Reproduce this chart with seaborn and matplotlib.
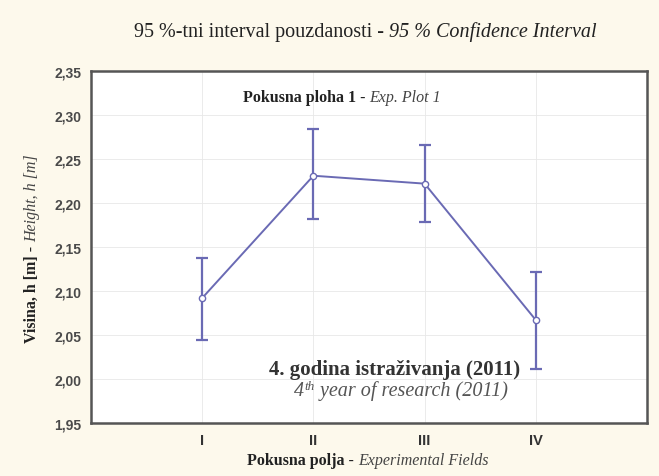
import matplotlib
matplotlib.use("Agg")
import matplotlib.pyplot as plt
import seaborn as sns
import numpy as np
import pandas as pd

fields = ["I", "II", "III", "IV"]
means = [2.092, 2.231, 2.222, 2.067]
ci_low = [2.044, 2.182, 2.178, 2.011]
ci_high = [2.138, 2.284, 2.266, 2.122]
y_ticks = [1.95, 2.00, 2.05, 2.10, 2.15, 2.20, 2.25, 2.30, 2.35]

sns.set_theme(style="white")
plt.rcParams['font.family'] = ['Liberation Serif', 'DejaVu Serif']

BG = "#fdf9ec"
LINE = "#6a6ab4"

fig = plt.figure(figsize=(6.59, 4.77), dpi=100, facecolor=BG)
ax = fig.add_axes([91/659, 1-424/477, (647-91)/659, (424-72)/477])
ax.set_facecolor("white")

xpos = np.arange(1, len(fields) + 1)
df = pd.DataFrame({"x": xpos, "mean": means})

ax.errorbar(xpos, means,
            yerr=[np.array(means) - np.array(ci_low), np.array(ci_high) - np.array(means)],
            fmt="none", ecolor=LINE, elinewidth=1.6, capsize=4, capthick=1.6, zorder=2)
sns.lineplot(data=df, x="x", y="mean", ax=ax, color=LINE, linewidth=1.4,
             marker="o", markersize=4.5, markerfacecolor="white",
             markeredgecolor=LINE, markeredgewidth=1.0, zorder=3)

ax.set_xlim(0, 5)
ax.set_ylim(1.95, 2.35)
ax.set_xticks(xpos)
ax.set_xticklabels(fields, fontfamily="Liberation Sans", fontweight="bold",
                   fontsize=10.5, color="#333333")
ax.set_yticks(y_ticks)
ax.set_yticklabels([f"{v:.2f}".replace(".", ",") for v in y_ticks],
                   fontfamily="Liberation Sans", fontweight="bold", fontsize=10,
                   color="#4a4a4a")
ax.tick_params(axis="both", which="both", length=3, width=1, color="#555555",
               direction="in")
ax.tick_params(axis="y", pad=7)
ax.tick_params(axis="x", pad=7)
ax.grid(True, color="#e8e8e8", linestyle="-", linewidth=0.6)
ax.set_xlabel("")
ax.set_ylabel("")
for s in ax.spines.values():
    s.set_visible(True)
    s.set_color("#555555")
    s.set_linewidth(1.8)

fig.canvas.draw()
renderer = fig.canvas.get_renderer()


def mixed_text(parts, x, y, rotation=0, ha="center"):
    """parts: list of (text, kwargs, dy). x,y in figure pixels (y from top)."""
    objs = []
    widths = []
    for txt, kw, dy in parts:
        t = fig.text(0, 0, txt, transform=None, rotation=0, va="baseline", **kw)
        bb = t.get_window_extent(renderer)
        widths.append(bb.width)
        objs.append((t, dy))
    total = sum(widths)
    H = fig.bbox.height
    off = -total / 2 if ha == "center" else 0
    for (t, dy), w in zip(objs, widths):
        if rotation == 0:
            t.set_position((x + off, H - y + dy))
        else:
            t.set_rotation(90)
            t.set_rotation_mode("anchor")
            t.set_position((x - dy, H - y + off))
        off += w
    return objs


mixed_text([("95 %-tni interval pouzdanosti - ", dict(fontsize=14.5, color="#222222"), 0),
            ("95 % Confidence Interval", dict(fontsize=14.5, style="italic",
                                              color="#222222"), 0)],
           365, 37)

mixed_text([("Pokusna ploha 1 - ", dict(fontsize=11.5, fontweight="bold", color="#222222"), 0),
            ("Exp. Plot 1", dict(fontsize=11.5, style="italic", color="#444444"), 0)],
           342, 102)

mixed_text([("Pokusna polja - ", dict(fontsize=11.5, fontweight="bold", color="#222222"), 0),
            ("Experimental Fields", dict(fontsize=11.5, style="italic", color="#444444"), 0)],
           368, 465)

mixed_text([("Visina, h [m] - ", dict(fontsize=11.5, fontweight="bold", color="#222222"), 0),
            ("Height, h [m]", dict(fontsize=11.5, style="italic", color="#444444"), 0)],
           36, 249, rotation=90)

mixed_text([("4. godina istraživanja (2011)", dict(fontsize=15, fontweight="bold",
                                                   color="#333333"), 0)],
           395, 375)
mixed_text([("4", dict(fontsize=14.5, style="italic", color="#555555"), 0),
            ("th", dict(fontsize=9.5, style="italic", color="#555555"), 6),
            (" year of research (2011)", dict(fontsize=14.5, style="italic",
                                              color="#555555"), 0)],
           401, 396)

fig.savefig("out.png", dpi=100, facecolor=BG)
